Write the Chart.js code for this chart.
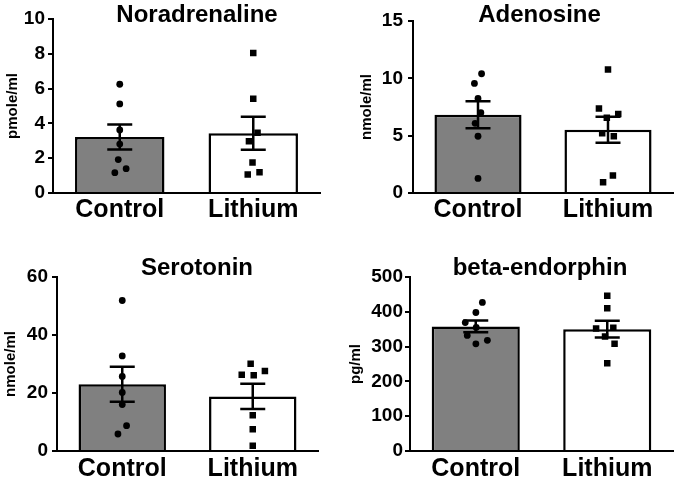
<!DOCTYPE html>
<html><head><meta charset="utf-8">
<script src="https://cdn.jsdelivr.net/npm/chart.js@4.4.1/dist/chart.umd.min.js"></script>
<style>
html,body{margin:0;padding:0;background:#fff;width:680px;height:481px;overflow:hidden;position:relative;}
canvas{position:absolute;}
</style></head><body>
<canvas id="c1" width="340" height="240" style="left:0px;top:0px"></canvas>
<canvas id="c2" width="340" height="240" style="left:340px;top:0px"></canvas>
<canvas id="c3" width="340" height="241" style="left:0px;top:240px"></canvas>
<canvas id="c4" width="340" height="241" style="left:340px;top:240px"></canvas>
<script>
// ---- data ----
const categories = ['Control', 'Lithium'];

const noraTitle = 'Noradrenaline';
const noraUnit = 'pmole/ml';
const noraTicks = [0, 2, 4, 6, 8, 10];
const noraMean = [3.22, 3.43];
const noraSem = [0.72, 0.95];
const noraControl = [6.25, 5.12, 3.62, 2.81, 1.92, 1.40, 1.17];
const noraLithium = [8.04, 5.42, 2.98, 3.46, 1.75, 1.19, 1.06];

const adenoTitle = 'Adenosine';
const adenoUnit = 'nmole/ml';
const adenoTicks = [0, 5, 10, 15];
const adenoMean = [6.83, 5.52];
const adenoSem = [1.18, 1.13];
const adenoControl = [9.56, 10.4, 8.25, 6.08, 7.0, 4.95, 1.27];
const adenoLithium = [10.77, 6.57, 6.89, 7.36, 5.21, 4.95, 0.93, 1.53];

const seroTitle = 'Serotonin';
const seroUnit = 'nmole/ml';
const seroTicks = [0, 20, 40, 60];
const seroMean = [23.0, 18.8];
const seroSem = [6.05, 4.35];
const seroControl = [51.9, 32.8, 25.7, 20.2, 16.0, 5.87, 8.75];
const seroLithium = [26.1, 27.6, 26.3, 30.1, 12.3, 7.5, 1.84];

const betaTitle = 'beta-endorphin';
const betaUnit = 'pg/ml';
const betaTicks = [0, 100, 200, 300, 400, 500];
const betaMean = [358, 350];
const betaSem = [17, 24];
const betaControl = [308, 318, 332, 355, 369, 398, 427];
const betaLithium = [446, 410, 329, 354, 352, 308, 252];

// ---- plugins ----
const FONT = "'Liberation Sans', Arial, Helvetica, sans-serif";

const swarmPlugin = {
  id: 'swarm',
  afterDatasetsUpdate(chart, args, opts) {
    const D = opts.distance;
    chart.data.datasets.forEach((ds, di) => {
      const meta = chart.getDatasetMeta(di);
      if (meta.type !== 'scatter') return;
      const placed = [];
      meta.data.forEach(el => {
        const y = el.y;
        const conflicts = placed.filter(q => Math.abs(q.y - y) < D);
        const need = q => Math.sqrt(D * D - (q.y - y) * (q.y - y));
        const cands = [0];
        conflicts.forEach(q => { cands.push(q.dx + need(q), q.dx - need(q)); });
        cands.sort((a, b) => (Math.abs(a) - Math.abs(b)) || (b - a));
        let dx = 0;
        for (const c of cands) {
          if (conflicts.every(q => Math.abs(c - q.dx) >= need(q) - 1e-6)) { dx = c; break; }
        }
        placed.push({ y, dx, el });
      });
      const sorted = placed.slice().sort((a, b) => a.y - b.y);
      let group = [];
      const flush = () => {
        if (!group.length) return;
        const m = group.reduce((s, q) => s + q.dx, 0) / group.length;
        group.forEach(q => { q.dx -= m; });
        group = [];
      };
      sorted.forEach((q, i) => {
        if (i > 0 && q.y - sorted[i - 1].y >= D) flush();
        group.push(q);
      });
      flush();
      placed.forEach(q => { q.el.x += q.dx; });
    });
  }
};

const errorBarPlugin = {
  id: 'errorBars',
  afterDatasetDraw(chart, args, opts) {
    if (args.meta.type !== 'bar') return;
    const ds = chart.data.datasets[args.index];
    const { ctx } = chart;
    const y = chart.scales.y;
    ctx.save();
    ctx.strokeStyle = '#000';
    ctx.lineWidth = opts.lineWidth;
    ctx.lineCap = 'butt';
    args.meta.data.forEach((bar, i) => {
      const m = ds.data[i], s = opts.sem[i];
      const cx = bar.x;
      const yt = y.getPixelForValue(m + s), yb = y.getPixelForValue(m - s);
      const hw = opts.capHalfWidth;
      ctx.beginPath();
      ctx.moveTo(cx, yt); ctx.lineTo(cx, yb);
      ctx.moveTo(cx - hw, yt); ctx.lineTo(cx + hw, yt);
      ctx.moveTo(cx - hw, yb); ctx.lineTo(cx + hw, yb);
      ctx.stroke();
    });
    ctx.restore();
  }
};

const panelTitlePlugin = {
  id: 'panelTitle',
  afterDraw(chart, args, opts) {
    const { ctx, chartArea } = chart;
    ctx.save();
    ctx.font = 'bold ' + opts.size + 'px ' + FONT;
    ctx.fillStyle = '#000';
    ctx.textAlign = 'center';
    ctx.textBaseline = 'middle';
    ctx.fillText(opts.text, (chartArea.left + chartArea.right) / 2 + opts.dx, opts.y);
    ctx.restore();
  }
};

function makePanel(id, p) {
  new Chart(document.getElementById(id), {
    type: 'bar',
    data: {
      labels: categories,
      datasets: [
        { type: 'scatter', data: p.control.map(v => ({ x: categories[0], y: v })),
          pointStyle: 'circle', pointRadius: 3.4, backgroundColor: '#000', borderWidth: 0, order: 1 },
        { type: 'scatter', data: p.lithium.map(v => ({ x: categories[1], y: v })),
          pointStyle: 'rect', pointRadius: 4.6, backgroundColor: '#000', borderWidth: 0, order: 1 },
        { type: 'bar', data: p.mean, backgroundColor: ['#808080', '#ffffff'], borderColor: '#000',
          borderWidth: 2.5, barPercentage: 0.67, categoryPercentage: 1, order: 2 }
      ]
    },
    options: {
      responsive: false,
      animation: false,
      devicePixelRatio: 1,
      events: [],
      layout: { padding: p.pad },
      plugins: {
        legend: { display: false },
        tooltip: { enabled: false },
        swarm: { distance: 12 },
        errorBars: { sem: p.sem, lineWidth: 2.5, capHalfWidth: 12.5 },
        panelTitle: { text: p.title, size: 24, dx: p.titleDx, y: p.titleY }
      },
      scales: {
        x: {
          type: 'category',
          offset: true,
          grid: { display: false },
          border: { display: true, color: '#000', width: 2 },
          ticks: { color: '#000', padding: p.xPad, font: { family: FONT, size: 25, weight: 'bold' } },
          afterFit(scale) { scale.height = p.xH; }
        },
        y: {
          min: p.ticks[0],
          max: p.ticks[p.ticks.length - 1],
          ticks: { stepSize: p.ticks[1] - p.ticks[0], color: '#000', padding: p.tickPad,
                   font: { family: FONT, size: 19, weight: 'bold' } },
          grid: { display: true, drawOnChartArea: false, drawTicks: true, tickLength: 5, color: '#000', lineWidth: 2 },
          border: { display: true, color: '#000', width: 2 },
          title: { display: true, text: p.unit, color: '#000',
                   font: { family: FONT, size: 15, weight: 'bold' }, padding: { top: p.unitPad, bottom: 0 } },
          afterFit(scale) { scale.width = p.yW; }
        }
      }
    },
    plugins: [swarmPlugin, errorBarPlugin, panelTitlePlugin]
  });
}

makePanel('c1', { title: noraTitle, unit: noraUnit, ticks: noraTicks, mean: noraMean, sem: noraSem,
  control: noraControl, lithium: noraLithium,
  pad: { left: 0, right: 20, top: 19, bottom: 15 }, yW: 53, xH: 32, xPad: -6, tickPad: 3, unitPad: 4,
  titleDx: 10.5, titleY: 15 });
makePanel('c2', { title: adenoTitle, unit: adenoUnit, ticks: adenoTicks, mean: adenoMean, sem: adenoSem,
  control: adenoControl, lithium: adenoLithium,
  pad: { left: 0, right: 7, top: 21, bottom: 15 }, yW: 73, xH: 32, xPad: -6, tickPad: 5, unitPad: 18,
  titleDx: -3.5, titleY: 15 });
makePanel('c3', { title: seroTitle, unit: seroUnit, ticks: seroTicks, mean: seroMean, sem: seroSem,
  control: seroControl, lithium: seroLithium,
  pad: { left: 0, right: 22, top: 37, bottom: 0 }, yW: 57, xH: 30, xPad: -5, tickPad: 4, unitPad: 2,
  titleDx: 9.5, titleY: 28.5 });
makePanel('c4', { title: betaTitle, unit: betaUnit, ticks: betaTicks, mean: betaMean, sem: betaSem,
  control: betaControl, lithium: betaLithium,
  pad: { left: 0, right: 7, top: 37, bottom: 0 }, yW: 70, xH: 30, xPad: -5, tickPad: 2, unitPad: 7,
  titleDx: -1.5, titleY: 28.5 });
</script>
</body></html>
